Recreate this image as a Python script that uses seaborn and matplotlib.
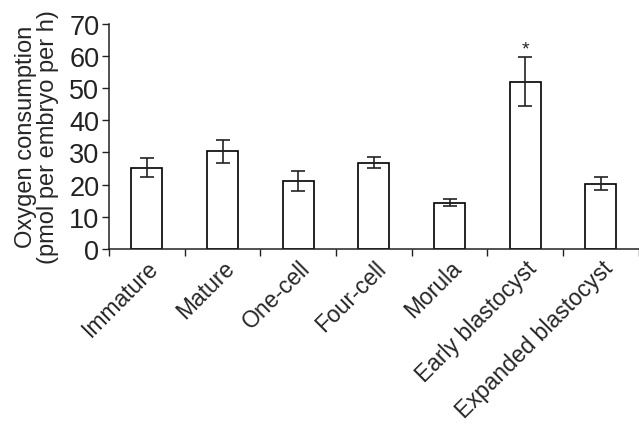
import numpy as np
import pandas as pd
import matplotlib
matplotlib.use("Agg")
import matplotlib.pyplot as plt
import seaborn as sns

stages = ["Immature", "Mature", "One-cell", "Four-cell", "Morula",
          "Early blastocyst", "Expanded blastocyst"]
oxygen = [25.3, 30.3, 21.1, 26.8, 14.3, 52.0, 20.3]
sem = [3.0, 3.5, 3.0, 1.8, 1.1, 7.6, 2.0]
significant = [False, False, False, False, False, True, False]

sns.set_style("ticks")
plt.rcParams["font.family"] = ["Liberation Sans", "DejaVu Sans"]
plt.rcParams["text.color"] = "#222222"

df = pd.DataFrame({"stage": stages, "oxygen": oxygen})

fig = plt.figure(figsize=(6.39, 4.27), dpi=100)
ax = fig.add_axes([0.1706, 0.4145, 0.829, 0.528])

sns.barplot(data=df, x="stage", y="oxygen", ax=ax, width=0.41,
            color="white", edgecolor="black", linewidth=1.2, errorbar=None)
ax.errorbar(np.arange(len(stages)), oxygen, yerr=sem, fmt="none",
            ecolor="#222222", elinewidth=1.2, capsize=5, capthick=1.2)

# asterisk sits just above the upper error cap
for i, sig in enumerate(significant):
    if sig:
        ax.text(i, oxygen[i] + sem[i] + 1.0, "*", ha="center", va="baseline",
                fontsize=14)

ax.set_ylim(0, 70)
ax.set_xlim(-0.5, len(stages) - 0.5)
ax.set_yticks(range(0, 71, 10))
ax.tick_params(axis="y", labelsize=19.5, length=5, width=1, pad=2,
               colors="#222222")

# category boundaries as tick marks, labels on minor ticks at bar centres
ax.set_xticks(np.arange(-0.5, len(stages), 1.0))
ax.set_xticklabels([])
ax.tick_params(axis="x", which="major", length=5, width=1, colors="#222222")
ax.set_xticks(np.arange(len(stages)), minor=True)
ax.set_xticklabels(stages, minor=True, rotation=45, ha="right",
                   rotation_mode="anchor", fontsize=16.5)
ax.tick_params(axis="x", which="minor", length=0, pad=5)

ax.set_xlabel("")
ax.set_ylabel("Oxygen consumption\n(pmol per embryo per h)", fontsize=17,
              linespacing=1.0, labelpad=7)

for side in ["top", "right"]:
    ax.spines[side].set_visible(False)
for side in ["left", "bottom"]:
    ax.spines[side].set_linewidth(1.1)
    ax.spines[side].set_color("#222222")

fig.savefig("out.png", dpi=100)
